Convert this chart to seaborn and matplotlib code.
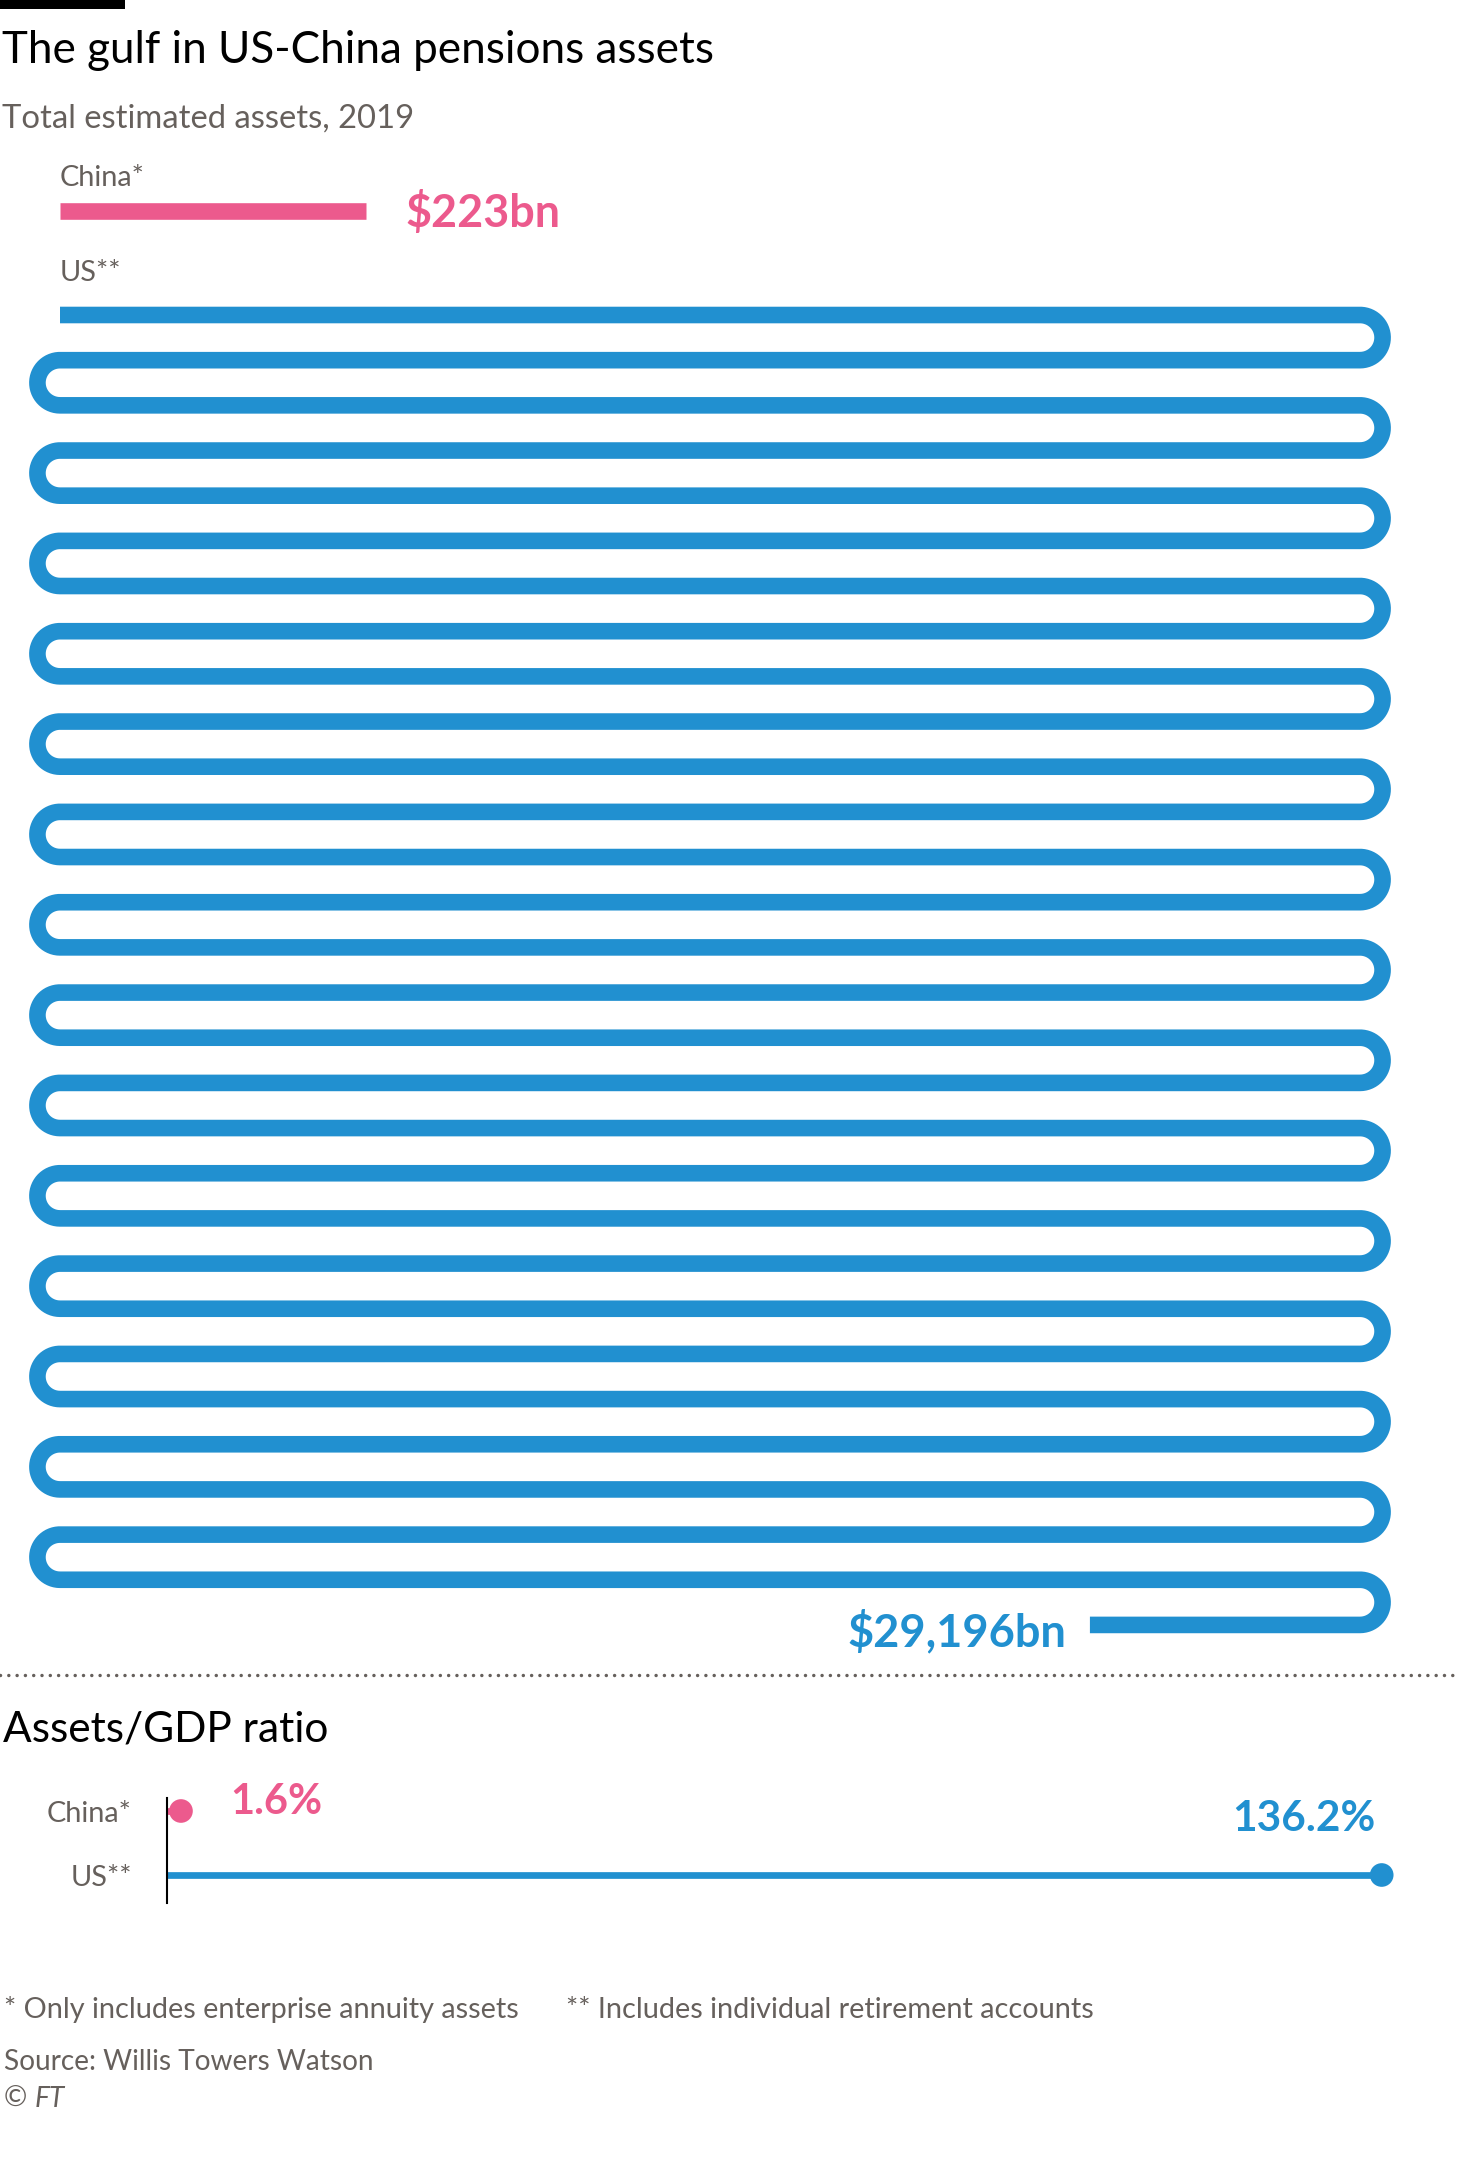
import numpy as np
import pandas as pd
import matplotlib
matplotlib.use('Agg')
import matplotlib.pyplot as plt
from matplotlib.patches import Rectangle
from matplotlib.lines import Line2D
import seaborn as sns

# data
countries = ['China*', 'US**']
assets_bn = [223, 29196]          # total estimated pension assets, 2019 ($bn)
gdp_ratio = [1.6, 136.2]          # assets / GDP (%)
asset_labels = ['$223bn', '$29,196bn']
ratio_labels = ['1.6%', '136.2%']

PINK = '#EC5A8D'
BLUE = '#2190D0'
GREY = '#66605C'

sns.set_theme(style='white')
plt.rcParams['font.family'] = ['Lato', 'DejaVu Sans']

W, H, DPI = 1459, 2177, 100
fig = plt.figure(figsize=(W / DPI, H / DPI), dpi=DPI)
fig.patch.set_facecolor('white')


def fx(px):
    return px / W


def fy(px):
    return 1 - px / H


# layout of the snake (pixels)
PX_PER_BN = 1.371
ROW_PX = 1300
GAP_PX = 45.17
X0_PX, Y0_PX = 60, 315       # start of the US line
CHINA_Y_PX = 211


def snake_path(total, row_len, gap):
    """walk `total` along a serpentine of rows joined by half circles"""
    r = gap / 2
    xs, ys = [0.0], [0.0]
    x, y, direction = 0.0, 0.0, 1
    remaining = total
    while remaining > 0:
        seg = min(row_len, remaining)
        x += direction * seg
        xs.append(x)
        ys.append(y)
        remaining -= seg
        if remaining <= 0:
            break
        arc_len = np.pi * r
        frac = min(1.0, remaining / arc_len)
        theta = np.linspace(0, np.pi * frac, 60)
        arc_x = x + direction * r * np.sin(theta)
        arc_y = y + r - r * np.cos(theta)
        xs.extend(arc_x[1:])
        ys.extend(arc_y[1:])
        remaining -= arc_len * frac
        x, y = arc_x[-1], arc_y[-1]
        direction *= -1
    return np.array(xs), np.array(ys)


# ---- top panel: assets in $bn, equal px per unit on both axes ----
ax = fig.add_axes([0, 0, 1, 1])
ax.set_xlim(-X0_PX / PX_PER_BN, (W - X0_PX) / PX_PER_BN)
ax.set_ylim((H - Y0_PX) / PX_PER_BN, -Y0_PX / PX_PER_BN)
ax.axis('off')

china_y = (CHINA_Y_PX - Y0_PX) / PX_PER_BN
lw_thick = 16.6 * 72 / DPI

# China bar
ax.plot([0, assets_bn[0]], [china_y, china_y], color=PINK, lw=lw_thick,
        solid_capstyle='butt')

# US serpentine
sx, sy = snake_path(assets_bn[1], ROW_PX / PX_PER_BN, GAP_PX / PX_PER_BN)
snake = pd.DataFrame({'x': sx, 'y': sy})
sns.lineplot(data=snake, x='x', y='y', sort=False, estimator=None, ax=ax,
             color=BLUE, lw=lw_thick, solid_capstyle='butt',
             solid_joinstyle='round')
ax.axis('off')

# series labels
ax.annotate(countries[0], (0, china_y), xytext=(0, 25.3), textcoords='offset pixels',
            fontsize=20.8, color=GREY, va='baseline', ha='left')
ax.annotate(countries[1], (0, 0), xytext=(0, 34), textcoords='offset pixels',
            fontsize=20.8, color=GREY, va='baseline', ha='left')

# value labels
ax.annotate(asset_labels[0], (assets_bn[0], china_y), xytext=(40, -15.7),
            textcoords='offset pixels', fontsize=32.3, fontweight='bold',
            color=PINK, va='baseline', ha='left')
ax.annotate(asset_labels[1], (sx[-1], sy[-1]), xytext=(-24, -21.7),
            textcoords='offset pixels', fontsize=32.5, fontweight='bold',
            color=BLUE, va='baseline', ha='right')

# ---- header ----
fig.add_artist(Rectangle((0, fy(8.7)), fx(124.8), 8.7 / H, transform=fig.transFigure,
                         color='black', lw=0))
fig.text(fx(2), fy(63.3), 'The gulf in US-China pensions assets', fontsize=31.7,
         color='black', va='baseline', ha='left')
fig.text(fx(2), fy(127.7), 'Total estimated assets, 2019', fontsize=23.6,
         color=GREY, va='baseline', ha='left')

# dotted separator
fig.add_artist(Line2D([0, 1], [fy(1675.3)] * 2, transform=fig.transFigure,
                      color=GREY, lw=2.5, linestyle=(0, (0.01, 2.38)),
                      dash_capstyle='round'))

# ---- bottom panel: assets/GDP ratio ----
fig.text(fx(3), fy(1741.7), 'Assets/GDP ratio', fontsize=30.5, color='black',
         va='baseline', ha='left')

axl, axr, axt, axb = 166.7, 1381.7, 1798, 1903
ax2 = fig.add_axes([fx(axl), fy(axb), fx(axr - axl), (axb - axt) / H])
ax2.set_facecolor('none')
row_px = 64.0
top_off = (1811 - axt) / row_px
bot_off = (axb - 1811) / row_px
ax2.set_xlim(0, max(gdp_ratio))
ax2.set_ylim(bot_off, -top_off)

ratio_df = pd.DataFrame({'country': countries, 'ratio': gdp_ratio,
                         'row': range(len(countries))})
pal = {countries[0]: PINK, countries[1]: BLUE}
for _, r in ratio_df.iterrows():
    ax2.plot([0, r['ratio']], [r['row'], r['row']], color=pal[r['country']],
             lw=6.7 * 72 / DPI, solid_capstyle='butt', clip_on=False)
sns.scatterplot(data=ratio_df, x='ratio', y='row', hue='country', palette=pal,
                s=290, linewidth=0, legend=False, ax=ax2, clip_on=False, zorder=3)

for sp in ['top', 'right', 'bottom']:
    ax2.spines[sp].set_visible(False)
ax2.spines['left'].set_color('black')
ax2.spines['left'].set_linewidth(1.5)
ax2.set_xticks([])
ax2.set_yticks(ratio_df['row'])
ax2.set_yticklabels(countries, fontsize=20.8, color=GREY)
ax2.tick_params(axis='y', length=0, pad=25)
ax2.set_xlabel('')
ax2.set_ylabel('')

ax2.annotate(ratio_labels[0], (gdp_ratio[0], 0), xytext=(49, 9),
             textcoords='offset pixels', fontsize=30, fontweight='bold',
             color=PINK, va='center', ha='left')
ax2.annotate(ratio_labels[1], (gdp_ratio[1], 1), xytext=(-6, 56),
             textcoords='offset pixels', fontsize=30.5, fontweight='bold',
             color=BLUE, va='center', ha='right', annotation_clip=False)

# ---- footer ----
fig.text(fx(4), fy(2018.3), '* Only includes enterprise annuity assets', fontsize=20.8,
         color=GREY, va='baseline', ha='left')
fig.text(fx(566), fy(2018.3), '** Includes individual retirement accounts', fontsize=20.8,
         color=GREY, va='baseline', ha='left')
fig.text(fx(4), fy(2070), 'Source: Willis Towers Watson', fontsize=20.2,
         color=GREY, va='baseline', ha='left')
fig.text(fx(4), fy(2106.7), '©', fontsize=20.2, color=GREY, va='baseline', ha='left')
fig.text(fx(35), fy(2106.7), 'FT', fontsize=20.2, color=GREY, style='italic',
         va='baseline', ha='left')

fig.savefig('out.png', dpi=DPI, facecolor='white')
